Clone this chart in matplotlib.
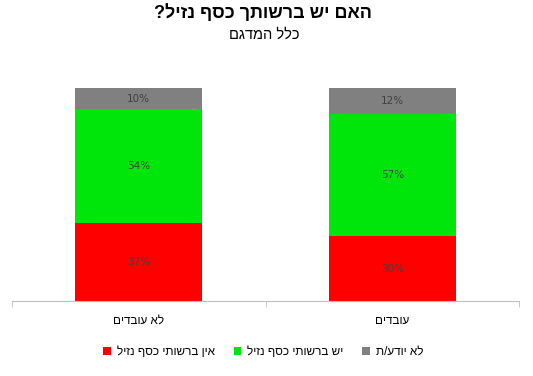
import numpy as np
import matplotlib
matplotlib.use("Agg")
import matplotlib.pyplot as plt

# נתונים
categories = ["לא עובדים", "עובדים"]
series_names = ["אין ברשותי כסף נזיל", "יש ברשותי כסף נזיל", "לא יודע/ת"]
no_money = [37, 30]
has_money = [54, 57]
dont_know = [10, 12]
title = "האם יש ברשותך כסף נזיל?"
subtitle = "כלל המדגם"

colors = ["#FF0000", "#00E60A", "#808080"]


def rtl(s):
    # matplotlib אינו תומך בכיווניות - הופכים את סדר התווים
    return s[::-1]


plt.rcParams["font.family"] = ["Liberation Sans", "DejaVu Sans"]

fig = plt.figure(figsize=(5.33, 3.76), dpi=100)
ax = fig.add_axes([12 / 533, 75 / 376, 507 / 533, 213 / 376])

x = np.arange(len(categories))
values = np.array([no_money, has_money, dont_know], dtype=float)
# גרף מוערם 100% - כל עמודה מנורמלת לסכום שלה
shares = values / values.sum(axis=0) * 100
bottom = np.zeros(len(categories))
handles = []
for name, vals, pct, col in zip(series_names, values, shares, colors):
    bars = ax.bar(x, pct, width=0.5, bottom=bottom, color=col, label=rtl(name))
    handles.append(bars)
    for xi, b, h, v in zip(x, bottom, pct, vals):
        ax.text(xi, b + h / 2, f"{v:.0f}%", ha="center", va="center",
                fontsize=7.5, color="#404040", family="DejaVu Sans")
    bottom += pct

ax.set_xlim(-0.5, 1.5)
ax.set_ylim(0, 100)
ax.set_xticks(x)
ax.set_xticklabels([rtl(c) for c in categories], fontsize=8.5)
ax.set_xticks([-0.5, 0.5, 1.5], minor=True)
ax.tick_params(axis="x", which="major", length=0, pad=10)
ax.tick_params(axis="x", which="minor", length=4, color="#BFBFBF")
ax.set_yticks([])
for side in ["left", "right", "top"]:
    ax.spines[side].set_visible(False)
ax.spines["bottom"].set_color("#BFBFBF")

fig.text(0.494, 0.965, rtl(title), ha="center", va="center",
         fontsize=13, fontweight="bold")
fig.text(0.495, 0.907, rtl(subtitle), ha="center", va="center", fontsize=10.5)

fig.legend(handles=handles, loc="center", bbox_to_anchor=(0.494, 0.064), ncol=3,
           frameon=False, fontsize=8.5, handlelength=0.65, handleheight=0.65,
           handletextpad=0.5, columnspacing=1.6)

fig.savefig("out.png", dpi=100)
